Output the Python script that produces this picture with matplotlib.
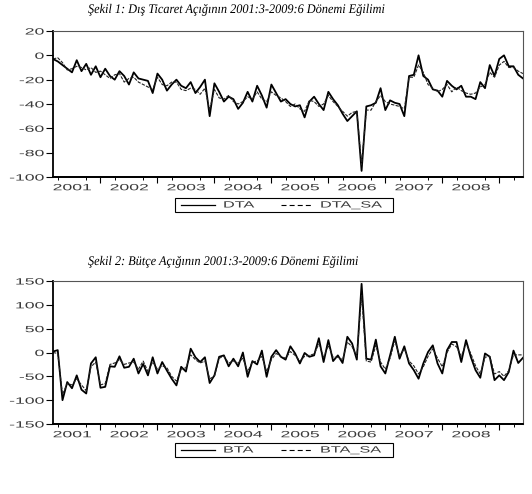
import numpy as np
import matplotlib
matplotlib.use("Agg")
import matplotlib.pyplot as plt
from matplotlib.lines import Line2D
from matplotlib.patches import Rectangle
from matplotlib.patheffects import AbstractPathEffect
from matplotlib.transforms import Affine2D

plt.rcParams['axes.unicode_minus'] = False

# ---- data: monthly 2001:3 .. 2009:6 ----
start_year = 2001
start_month = 3

dta = [-3, -5, -8, -11, -14, -4, -13, -7, -16, -9,
       -18, -11, -17, -20, -13, -17, -24, -14, -19, -20,
       -21, -31, -15, -20, -29, -24, -20, -25, -27, -22,
       -31, -26, -20, -50, -23, -30, -38, -34, -36, -44,
       -39, -30, -38, -25, -33, -43, -24, -31, -38, -36,
       -40, -42, -41, -51, -38, -34, -40, -45, -30, -36,
       -41, -48, -54, -50, -46, -95, -42, -41, -39, -27,
       -45, -37, -39, -40, -50, -17, -16, 0, -17, -20,
       -28, -29, -34, -21, -25, -28, -25, -34, -34, -36,
       -22, -27, -8, -17, -3, 0, -9, -9, -16, -19]

dta_sa = [-3, -2, -6, -12, -11, -9, -10, -12, -10, -14,
          -13, -16, -19, -16, -15, -22, -19, -18, -22, -24,
          -26, -28, -18, -24, -25, -22, -22, -28, -29, -27,
          -28, -32, -27, -45, -28, -35, -36, -33, -38, -40,
          -38, -34, -36, -30, -36, -38, -30, -33, -35, -38,
          -42, -40, -44, -46, -37, -38, -42, -40, -33, -38,
          -42, -46, -50, -47, -46, -90, -45, -45, -38, -33,
          -38, -40, -41, -42, -44, -18, -18, -8, -14, -24,
          -27, -30, -28, -24, -30, -26, -29, -31, -32, -31,
          -26, -24, -14, -18, -8, -5, -10, -10, -13, -15]

bta = [2, 5, -100, -62, -75, -48, -78, -86, -23, -10,
       -74, -72, -29, -30, -8, -32, -30, -13, -44, -24,
       -48, -10, -44, -20, -38, -55, -69, -30, -40, 8,
       -10, -20, -10, -64, -48, -9, -6, -29, -13, -29,
       0, -51, -18, -25, 4, -51, -9, 5, -9, -15,
       13, -2, -23, -1, -9, -6, 30, -20, 26, -18,
       -6, -22, 33, 19, -15, 144, -13, -15, 27, -29,
       -44, -6, 33, -13, 13, -23, -37, -55, -23, 1,
       15, -23, -44, 5, 22, 22, -20, 26, -9, -37,
       -53, -2, -9, -58, -48, -58, -41, 4, -22, -11]

bta_sa = [0, -2, -88, -65, -68, -55, -68, -80, -30, -20,
          -68, -65, -25, -22, -15, -25, -22, -20, -35, -18,
          -40, -20, -35, -28, -32, -50, -60, -35, -32, -5,
          -15, -22, -18, -55, -50, -12, -8, -22, -18, -22,
          -12, -40, -20, -18, -8, -40, -15, -2, -8, -12,
          2, -6, -18, -8, -6, -3, 18, -10, 15, -10,
          -10, -15, 22, 12, -8, 120, -18, -20, 15, -20,
          -35, -12, 25, -8, 8, -18, -28, -45, -30, -8,
          8, -12, -30, 0, 18, 12, -8, 18, -2, -28,
          -45, -10, -8, -45, -40, -50, -38, -5, -5, -5]

year_labels = ['2001', '2002', '2003', '2004', '2005', '2006', '2007', '2008']
title1 = "Şekil 1: Dış Ticaret Açığının 2001:3-2009:6 Dönemi Eğilimi"
title2 = "Şekil 2: Bütçe Açığının 2001:3-2009:6 Dönemi Eğilimi"

n = len(dta)
t = start_year + (start_month - 1 + np.arange(n)) / 12.0

W, H = 532.0, 494.0
fig = plt.figure(figsize=(W / 100, H / 100), dpi=100)


class Stretch(AbstractPathEffect):
    """Horizontally scale glyphs (text stays text) about an anchor."""

    def __init__(self, sx, anchor='left'):
        super().__init__()
        self.sx = sx
        self.anchor = anchor

    def draw_path(self, renderer, gc, tpath, affine, rgbFace=None):
        v = tpath.vertices
        if len(v) == 0:
            return
        if self.anchor == 'center':
            cx = 0.5 * (v[:, 0].min() + v[:, 0].max())
        elif self.anchor == 'right':
            cx = v[:, 0].max()
        else:
            cx = 0.0
        pre = Affine2D().translate(-cx, 0).scale(self.sx, 1).translate(cx, 0)
        renderer.draw_path(gc, tpath, pre + affine, rgbFace)


TICK_FONT = dict(family='Liberation Sans', size=6.5)
TICK_SX = 1.95
TXT_COLOR = '#3a3a3a'


def px(x, y):
    return x / W, 1 - y / H


def add_legend(yc, name1, name2):
    x0, x1 = 175, 393
    h = 14
    fx, fy = px(x0, yc + h / 2)
    fig.add_artist(Rectangle((fx, fy), (x1 - x0) / W, h / H, transform=fig.transFigure,
                             facecolor='white', edgecolor='black', lw=0.8))
    a, b = px(181, yc)
    c, _ = px(215, yc)
    fig.add_artist(Line2D([a, c], [b, b], transform=fig.transFigure, color='black', lw=0.9))
    a, _ = px(281, yc)
    c, _ = px(313, yc)
    fig.add_artist(Line2D([a, c], [b, b], transform=fig.transFigure, color='black', lw=0.8,
                          linestyle=(0, (4.5, 2.8))))
    for xx, s in [(223, name1), (320, name2)]:
        tx, ty = px(xx, yc)
        fig.text(tx, ty, s, ha='left', va='center', color=TXT_COLOR,
                 path_effects=[Stretch(1.8, 'left')], **TICK_FONT)


def make_panel(rect, y1, y2, ylim, yticks):
    ax = fig.add_axes(rect)
    ax.plot(t, y1, color='black', lw=1.3)
    ax.plot(t, y2, color='#222222', lw=0.8, linestyle=(0, (3, 1.2)))
    ax.set_xlim(t[0], t[-1])
    ax.set_ylim(*ylim)
    ax.set_yticks(yticks)
    ax.set_yticklabels([str(v) for v in yticks], fontdict=TICK_FONT, color=TXT_COLOR)
    mids = [int(y) + 0.5 for y in year_labels]
    ax.set_xticks(mids)
    ax.set_xticklabels(year_labels, fontdict=TICK_FONT, color=TXT_COLOR)
    ax.tick_params(axis='x', which='major', length=0, pad=4.5)
    quarters = [y + q / 4 for y in range(2001, 2010) for q in range(4)]
    quarters = [q for q in quarters if t[0] <= q <= t[-1] and abs(q - round(q)) > 1e-9]
    ax.set_xticks(quarters, minor=True)
    ax.tick_params(axis='x', which='minor', length=2.2, width=0.7, direction='out')
    ax.tick_params(axis='y', length=5, width=0.8, direction='out', pad=1.5)
    for lab in ax.get_xticklabels():
        lab.set_path_effects([Stretch(TICK_SX, 'center')])
    for lab in ax.get_yticklabels():
        lab.set_path_effects([Stretch(TICK_SX, 'right')])
    sec = ax.secondary_xaxis('bottom')
    ys = list(range(2002, 2010))
    sec.set_xticks(ys)
    sec.set_xticklabels([''] * len(ys))
    sec.tick_params(length=4.5, width=0.8, direction='out')
    sec.spines['bottom'].set_linewidth(1.3)
    for s in ['left', 'bottom']:
        ax.spines[s].set_linewidth(1.3)
        ax.spines[s].set_color('black')
    for s in ['top', 'right']:
        ax.spines[s].set_linewidth(0.8)
        ax.spines[s].set_color('#555555')
    return ax


make_panel([53 / W, 1 - 177 / H, 470 / W, 146 / H], dta, dta_sa,
           (-100, 20), [-100, -80, -60, -40, -20, 0, 20])
make_panel([53 / W, 1 - 424 / H, 470 / W, 143 / H], bta, bta_sa,
           (-150, 150), [-150, -100, -50, 0, 50, 100, 150])
add_legend(205, 'DTA', 'DTA_SA')
add_legend(450, 'BTA', 'BTA_SA')

for ty, s in [(10, title1), (262, title2)]:
    fig.text(88 / W, 1 - ty / H, s, family='Liberation Serif', style='italic',
             size=9.5, va='center', ha='left', path_effects=[Stretch(0.93, 'left')])

fig.savefig('out.png', dpi=100)
